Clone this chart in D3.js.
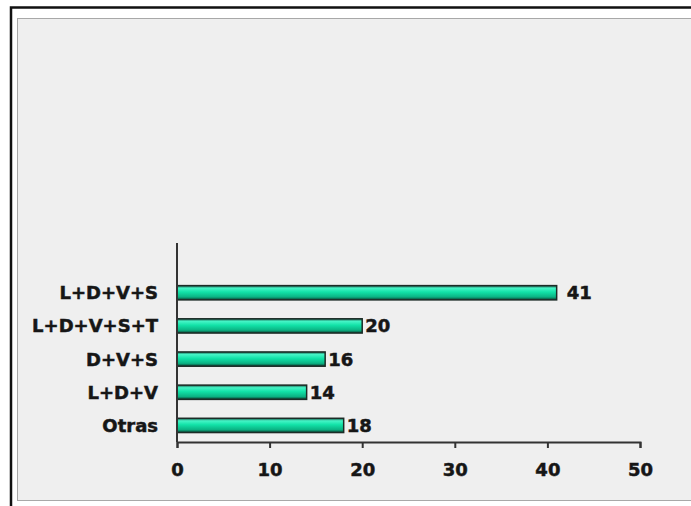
<!DOCTYPE html>
<html>
<head>
<meta charset="utf-8">
<script src="https://cdn.jsdelivr.net/npm/d3@7"></script>
<style>
  body { margin: 0; background: #fff; }
  svg text { font-family: "DejaVu Sans", Arial, sans-serif; font-weight: bold; fill: #161616; stroke: #161616; stroke-width: 0.5; }
</style>
</head>
<body>
<div id="graph"></div>
<script>
let w = 691;
let h = 506;

// data
let categories = ["L+D+V+S", "L+D+V+S+T", "D+V+S", "L+D+V", "Otras"];
let values = [41, 20, 16, 14, 18];
let xTicks = [0, 10, 20, 30, 40, 50];

let viz = d3.select("#graph")
  .append("svg")
    .attr("width", w)
    .attr("height", h);

// frame: black outline + grey panel
viz.append("rect")
  .attr("x", 17.5).attr("y", 18.5)
  .attr("width", w).attr("height", 482)
  .attr("fill", "#efefef")
  .attr("stroke", "#a8a8a8");
viz.append("path")
  .attr("d", "M11,506 V7.5 H691")
  .attr("fill", "none")
  .attr("stroke", "#111")
  .attr("stroke-width", 2.5);

// gradient for the cylinder look
let defs = viz.append("defs");
let grad = defs.append("linearGradient")
  .attr("id", "barGrad")
  .attr("x1", 0).attr("y1", 0).attr("x2", 0).attr("y2", 1);
grad.append("stop").attr("offset", "0%").attr("stop-color", "#1b5a4a");
grad.append("stop").attr("offset", "18%").attr("stop-color", "#45f4c6");
grad.append("stop").attr("offset", "45%").attr("stop-color", "#12e2a8");
grad.append("stop").attr("offset", "80%").attr("stop-color", "#0bb283");
grad.append("stop").attr("offset", "100%").attr("stop-color", "#0b3d30");

let axisLeftX = 177;
let axisTop = 243;
let axisBottom = 442;

let xScale = d3.scaleLinear().domain([0, 50]).range([axisLeftX, 640]);
// top slot of the axis is left empty, as in the picture
let slot = (axisBottom - axisTop) / (categories.length + 1);
let yScale = d3.scaleBand()
  .domain(categories)
  .range([axisTop + slot, axisBottom])
  .paddingInner(0.57)
  .paddingOuter(0.285);

// bars
viz.selectAll(".bar").data(values).enter()
  .append("rect")
    .attr("class", "bar")
    .attr("x", xScale(0))
    .attr("y", (d, i) => yScale(categories[i]))
    .attr("width", d => xScale(d) - xScale(0))
    .attr("height", yScale.bandwidth())
    .attr("fill", "url(#barGrad)")
    .attr("stroke", "#1c2b26")
    .attr("stroke-width", 1.5);

// value labels
viz.selectAll(".val").data(values).enter()
  .append("text")
    .attr("class", "val")
    .attr("x", d => xScale(d) + (d > 30 ? 10 : 3))
    .attr("y", (d, i) => yScale(categories[i]) + yScale.bandwidth() / 2)
    .attr("dy", "0.36em")
    .attr("font-size", 18)
    .text(d => d);

// category labels
viz.selectAll(".cat").data(categories).enter()
  .append("text")
    .attr("class", "cat")
    .attr("x", 158)
    .attr("y", d => yScale(d) + yScale.bandwidth() / 2)
    .attr("dy", "0.36em")
    .attr("text-anchor", "end")
    .attr("font-size", 18)
    .text(d => d);

// x axis
let xAxis = d3.axisBottom(xScale).tickValues(xTicks).tickSize(6).tickPadding(15).tickSizeOuter(6);
let xAxisGroup = viz.append("g")
  .attr("class", "xaxis")
  .attr("transform", "translate(0," + axisBottom + ")")
  .call(xAxis);
xAxisGroup.select(".domain").attr("stroke", "#333").attr("stroke-width", 2);
xAxisGroup.selectAll(".tick line").attr("stroke", "#333").attr("stroke-width", 2);
xAxisGroup.selectAll(".tick text")
  .attr("font-size", 18)
  .attr("font-family", null)
  .attr("fill", "#161616");

// y axis line
viz.append("line")
  .attr("x1", axisLeftX).attr("x2", axisLeftX)
  .attr("y1", axisTop).attr("y2", axisBottom)
  .attr("stroke", "#333")
  .attr("stroke-width", 2);
</script>
</body>
</html>
